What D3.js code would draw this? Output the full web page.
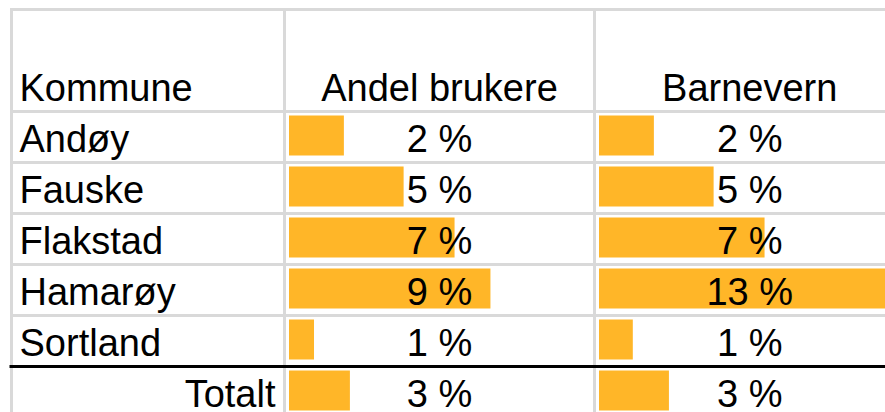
<!DOCTYPE html>
<html>
<head>
<meta charset="utf-8">
<script src="https://cdn.jsdelivr.net/npm/d3@7"></script>
<style>
  html, body { margin: 0; padding: 0; background: #fff; }
  svg { display: block; }
  text { font-family: "Liberation Sans", Arial, sans-serif; font-size: 38px; fill: #000; }
</style>
</head>
<body>
<div class="table"></div>
<script>
// column headers and row names
const columns = ["Kommune", "Andel brukere", "Barnevern"];
const kommuner = ["Andøy", "Fauske", "Flakstad", "Hamarøy", "Sortland"];
const totalLabel = "Totalt";

// shares (shown rounded to whole percent)
const andelBrukere = [0.0237, 0.0495, 0.0715, 0.087, 0.0108];
const barnevern = [0.0237, 0.0495, 0.0715, 0.13, 0.0146];
const totalt = [0.0263, 0.0302];

let width = 885;
let height = 412;

// column edges (grid line centres), last column runs past the window
let colEdges = [11.5, 284.5, 594.5, 905];
let headerTop = 9.5;
let rowH = 51;
let bodyTop = headerTop + 2 * rowH;

let barColor = "#FFB628";
let gridColor = "#d9d9d9";

let rows = kommuner.map((k, i) => ({ name: k, values: [andelBrukere[i], barnevern[i]], total: false }));
rows.push({ name: totalLabel, values: totalt, total: true });

let y = d3.scaleBand()
  .domain(rows.map(d => d.name))
  .range([bodyTop, bodyTop + rows.length * rowH]);

// one scale for both columns (data bars share the max)
let barMax = d3.max(rows, d => d3.max(d.values));
let x = d3.scaleLinear()
  .domain([0, barMax])
  .range([0, (colEdges[2] - colEdges[1]) - 9]);

let fmt = v => Math.round(v * 100) + " %";

let svg = d3.select(".table").append("svg")
  .attr("width", width)
  .attr("height", height);

// bars first, grid and text on top
let rowG = svg.selectAll(".row")
  .data(rows)
  .enter()
  .append("g")
  .attr("class", "row")
  .attr("transform", d => "translate(0," + y(d.name) + ")");

[0, 1].forEach(c => {
  let left = colEdges[c + 1];
  let mid = (colEdges[c + 1] + colEdges[c + 2]) / 2;

  rowG.append("rect")
    .attr("x", left + 4.5)
    .attr("y", 4)
    .attr("width", d => x(d.values[c]))
    .attr("height", 40)
    .attr("fill", barColor);

  rowG.append("text")
    .attr("x", mid)
    .attr("y", rowH - 11)
    .attr("text-anchor", "middle")
    .text(d => fmt(d.values[c]));
});

// names
rowG.append("text")
  .attr("x", d => d.total ? colEdges[1] - 9 : colEdges[0] + 8)
  .attr("y", rowH - 11)
  .attr("text-anchor", d => d.total ? "end" : "start")
  .text(d => d.name);

// header
svg.selectAll(".head")
  .data(columns)
  .enter()
  .append("text")
  .attr("class", "head")
  .attr("x", (d, i) => i === 0 ? colEdges[0] + 8 : (colEdges[i] + colEdges[i + 1]) / 2)
  .attr("y", bodyTop - 10.5)
  .attr("text-anchor", (d, i) => i === 0 ? "start" : "middle")
  .text(d => d);

// grid lines
let grid = svg.append("g").attr("class", "grid")
  .attr("stroke", gridColor)
  .attr("stroke-width", 3);

let hLines = [headerTop].concat(rows.slice(0, -2).map(d => y(d.name) + rowH)).concat([bodyTop]);
grid.selectAll("line.h")
  .data(hLines)
  .enter()
  .append("line")
  .attr("x1", colEdges[0] - 1.5)
  .attr("x2", width)
  .attr("y1", d => d)
  .attr("y2", d => d);

grid.selectAll("line.v")
  .data(colEdges.slice(0, 3))
  .enter()
  .append("line")
  .attr("x1", d => d)
  .attr("x2", d => d)
  .attr("y1", headerTop - 1.5)
  .attr("y2", height);

// black rule above the total row
svg.append("line")
  .attr("x1", colEdges[0] - 2)
  .attr("x2", width)
  .attr("y1", y(totalLabel))
  .attr("y2", y(totalLabel))
  .attr("stroke", "#000")
  .attr("stroke-width", 3);
</script>
</body>
</html>
